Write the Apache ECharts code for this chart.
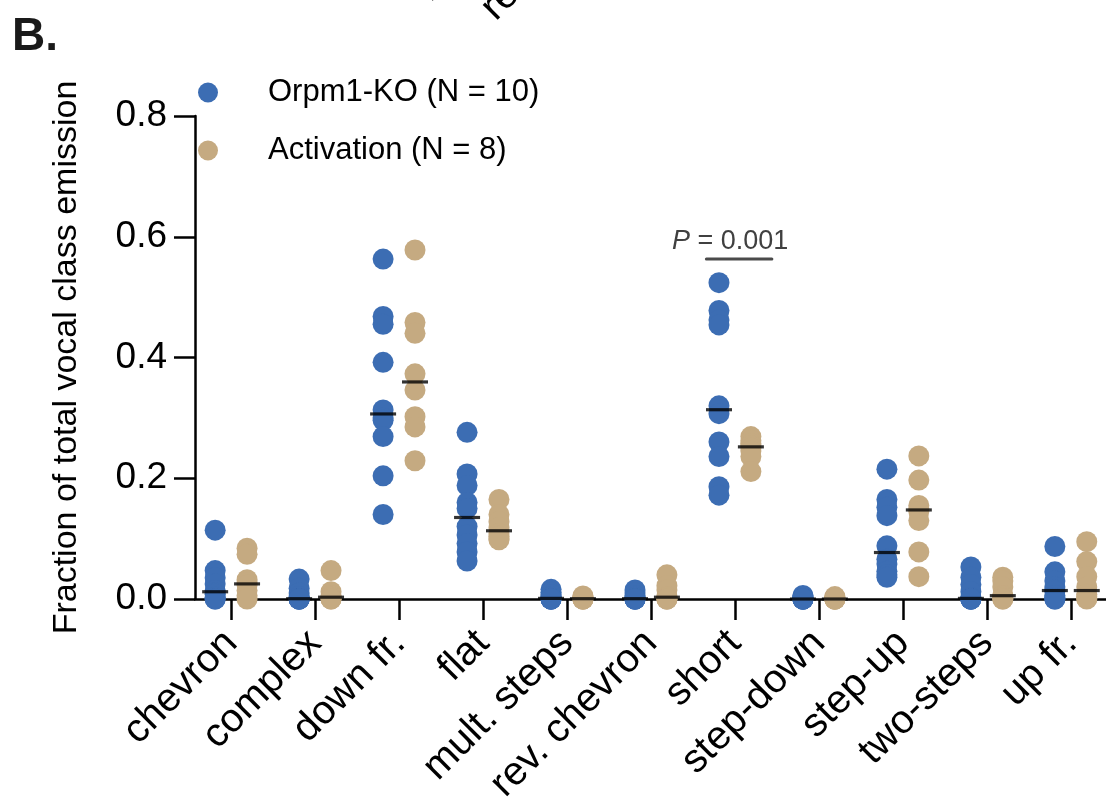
<!DOCTYPE html>
<html>
<head>
<meta charset="utf-8">
<script src="https://cdn.jsdelivr.net/npm/echarts@6/dist/echarts.min.js"></script>
<style>
  html, body { margin: 0; padding: 0; background: #ffffff; }
  #chart { width: 1106px; height: 811px; }
</style>
</head>
<body>
<div id="chart"></div>
<script>
// USV classes on the x axis
const categories = ['chevron', 'complex', 'down fr.', 'flat', 'mult. steps', 'rev. chevron',
                    'short', 'step-down', 'step-up', 'two-steps', 'up fr.'];

// Fraction of total emission per animal, one list per class (N = 10)
const orpm1KO = [
  [0.114, 0.047, 0.035, 0.025, 0.014, 0.010, 0.008, 0.003, 0, 0],
  [0.033, 0.018, 0.010, 0.004, 0.001, 0, 0, 0, 0, 0],
  [0.563, 0.468, 0.455, 0.392, 0.313, 0.300, 0.296, 0.269, 0.204, 0.140],
  [0.276, 0.207, 0.188, 0.160, 0.150, 0.120, 0.106, 0.092, 0.078, 0.063],
  [0.016, 0.011, 0.007, 0.004, 0.002, 0, 0, 0, 0, 0],
  [0.015, 0.010, 0.006, 0.003, 0.001, 0, 0, 0, 0, 0],
  [0.524, 0.478, 0.462, 0.454, 0.320, 0.307, 0.260, 0.236, 0.186, 0.172],
  [0.006, 0.004, 0.002, 0.001, 0, 0, 0, 0, 0, 0],
  [0.215, 0.165, 0.152, 0.138, 0.088, 0.066, 0.058, 0.046, 0.040, 0.036],
  [0.053, 0.036, 0.024, 0.012, 0.002, 0, 0, 0, 0, 0],
  [0.087, 0.045, 0.030, 0.020, 0.015, 0.013, 0.006, 0.002, 0, 0]
];

// Same measure for the activation group (N = 8)
const activation = [
  [0.084, 0.074, 0.032, 0.027, 0.023, 0.014, 0.006, 0],
  [0.047, 0.012, 0.006, 0.003, 0.003, 0.001, 0, 0],
  [0.578, 0.458, 0.440, 0.373, 0.346, 0.302, 0.285, 0.229],
  [0.165, 0.140, 0.128, 0.118, 0.108, 0.104, 0.100, 0.098],
  [0.005, 0.003, 0.002, 0.001, 0, 0, 0, 0],
  [0.040, 0.022, 0.015, 0.004, 0.002, 0, 0, 0],
  [0.269, 0.262, 0.257, 0.254, 0.250, 0.245, 0.236, 0.211],
  [0.004, 0.002, 0.001, 0, 0, 0, 0, 0],
  [0.237, 0.197, 0.155, 0.150, 0.145, 0.130, 0.078, 0.037],
  [0.036, 0.030, 0.020, 0.006, 0.005, 0.002, 0, 0],
  [0.095, 0.062, 0.037, 0.020, 0.008, 0.004, 0.001, 0]
];

const seriesNames = ['Orpm1-KO (N = 10)', 'Activation (N = 8)'];
const yTicks = [0, 0.2, 0.4, 0.6, 0.8];
const yTitle = 'Fraction of total vocal class emission';
const panelLabel = 'B.';
const pValue = '0.001';
const pCategory = 'short';
// labels of the panel above, clipped by the top edge
const clippedLabels = ['mult. steps', 'rev. chevron'];

const FONT = "'Liberation Sans', Arial, Helvetica, sans-serif";
const BLUE = '#3c6db3';
const TAN = '#c5aa81';
const GROUP_OFFSET = 0.19;   // dodge of each group from the category centre

function median(values) {
  const s = values.slice().sort((a, b) => a - b);
  const n = s.length;
  return n % 2 ? s[(n - 1) / 2] : (s[n / 2 - 1] + s[n / 2]) / 2;
}
function toPoints(groups, offset) {
  const out = [];
  groups.forEach((vals, i) => vals.forEach(v => out.push([i + offset, v])));
  return out;
}
function toMedians(groups, offset) {
  return groups.map((vals, i) => [i + offset, median(vals)]);
}

const chart = echarts.init(document.getElementById('chart'), null, { renderer: 'canvas' });
const catIdx = categories.map((_, i) => i);

const dotSeries = (name, groups, offset, color) => ({
  name, type: 'scatter', data: toPoints(groups, offset),
  symbol: 'circle', symbolSize: 21,
  itemStyle: { color, opacity: 1 },
  emphasis: { disabled: true }, z: 2
});
const medianSeries = (groups, offset) => ({
  name: 'median', type: 'scatter', data: toMedians(groups, offset),
  symbol: 'rect', symbolSize: [26, 3.2],
  itemStyle: { color: '#000' }, silent: true,
  emphasis: { disabled: true }, z: 4
});

chart.setOption({
  animation: false,
  backgroundColor: '#ffffff',
  textStyle: { fontFamily: FONT },
  grid: { left: 195, top: 116, height: 483, width: 913.6, containLabel: false, outerBoundsMode: 'none' },
  legend: {
    data: seriesNames.map(name => ({ name, icon: 'circle' })),
    orient: 'vertical', left: 198, top: 77, padding: 0,
    itemWidth: 20, itemHeight: 20, itemGap: 27,
    selectedMode: false,
    textStyle: { fontFamily: FONT, fontSize: 31, color: '#000', padding: [0, 0, 0, 45] }
  },
  xAxis: {
    type: 'value', min: -0.43, max: 10.45,
    axisLine: { show: true, onZero: true, lineStyle: { color: '#000', width: 2.5 } },
    axisTick: { show: true, customValues: catIdx, length: 21, lineStyle: { color: '#000', width: 2.5 } },
    axisLabel: {
      customValues: catIdx, rotate: 45, margin: 38,
      align: 'right', verticalAlign: 'middle', hideOverlap: false,
      fontFamily: FONT, fontSize: 40, color: '#000',
      formatter: v => categories[Math.round(v)]
    },
    splitLine: { show: false }
  },
  yAxis: {
    type: 'value', min: yTicks[0], max: yTicks[yTicks.length - 1], interval: 0.2,
    name: yTitle, nameLocation: 'middle', nameGap: 111,
    nameTextStyle: { fontFamily: FONT, fontSize: 34, color: '#000' },
    axisLine: { show: true, onZero: false, lineStyle: { color: '#000', width: 2.5 } },
    axisTick: { show: true, length: 21, lineStyle: { color: '#000', width: 2.5 } },
    axisLabel: { fontFamily: FONT, fontSize: 37, color: '#000', margin: 28,
                 formatter: v => v.toFixed(1) },
    splitLine: { show: false }
  },
  series: [
    dotSeries(seriesNames[0], orpm1KO, -GROUP_OFFSET, BLUE),
    dotSeries(seriesNames[1], activation, GROUP_OFFSET, TAN),
    medianSeries(orpm1KO, -GROUP_OFFSET),
    medianSeries(activation, GROUP_OFFSET)
  ]
});

// significance bracket over the 'short' class
const pIdx = categories.indexOf(pCategory);
const bracketY = 0.563;
const b0 = chart.convertToPixel({ gridIndex: 0 }, [pIdx - 0.34, bracketY]);
const b1 = chart.convertToPixel({ gridIndex: 0 }, [pIdx + 0.44, bracketY]);
const pt = chart.convertToPixel({ gridIndex: 0 }, [pIdx - 0.057, 0.592]);

chart.setOption({
  graphic: [
    {
      type: 'text', left: 12, top: 14,
      style: { text: panelLabel, font: `bold 46px ${FONT}`, fill: '#1a1a1a' }
    },
    {
      type: 'line', shape: { x1: b0[0], y1: b0[1], x2: b1[0], y2: b1[1] },
      style: { stroke: '#4a4a4a', lineWidth: 3, lineCap: 'round' }, z: 10
    },
    {
      type: 'text', x: pt[0], y: pt[1], z: 10,
      style: {
        text: `{i|P} = ${pValue}`, align: 'center', verticalAlign: 'middle',
        rich: {
          i: { fontStyle: 'italic', fontFamily: FONT, fontSize: 27, fill: '#404040' }
        },
        font: `27px ${FONT}`, fill: '#404040'
      }
    },
    {
      type: 'text', x: 437, y: 9, rotation: Math.PI / 4,
      style: { text: clippedLabels[0], font: `40px ${FONT}`, fill: '#000', align: 'left', verticalAlign: 'bottom' }
    },
    {
      type: 'text', x: 502, y: 28, rotation: Math.PI / 4,
      style: { text: clippedLabels[1], font: `40px ${FONT}`, fill: '#000', align: 'left', verticalAlign: 'bottom' }
    }
  ]
});
</script>
</body>
</html>
